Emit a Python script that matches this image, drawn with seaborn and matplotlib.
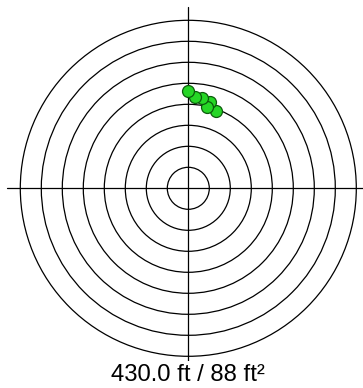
import matplotlib
matplotlib.use("Agg")
import matplotlib.pyplot as plt
from matplotlib.patches import Circle
import seaborn as sns
import pandas as pd

# Shot group on the target (ring units from the centre)
shot_x = [1.30, 1.01, 0.91, 0.65, 0.32, -0.02]
shot_y = [3.68, 4.13, 3.86, 4.30, 4.37, 4.62]

ring_radii = [1, 2, 3, 4, 5, 6, 7, 8]
cross_half = 8.65

distance_ft = 430.0
area_sqft = 88
caption = f"{distance_ft:.1f} ft / {area_sqft} ft\u00b2"

sns.set_theme(style="white")
plt.rcParams["font.family"] = ["Liberation Sans", "DejaVu Sans"]

W, H, DPI = 363, 388, 100
fig = plt.figure(figsize=(W / DPI, H / DPI), dpi=DPI)
axes_h = 361
ax = fig.add_axes([0, (H - axes_h) / H, 1, axes_h / H])
ax.set_facecolor("white")

unit = 21.0
cx, cy = 188.3, 188.3
ax.set_xlim(-cx / unit, (W - cx) / unit)
ax.set_ylim(-(axes_h - cy) / unit, cy / unit)
ax.set_aspect("equal", adjustable="box")
ax.set_axis_off()

for r in ring_radii:
    ax.add_patch(Circle((0, 0), r, fill=False, edgecolor="black", linewidth=0.9, zorder=1))

ax.plot([-cross_half, cross_half], [0, 0], color="black", linewidth=0.9, zorder=1)
ax.plot([0, 0], [-cross_half, cross_half], color="black", linewidth=0.9, zorder=1)

shots = pd.DataFrame({"x": shot_x, "y": shot_y})
sns.scatterplot(data=shots, x="x", y="y", ax=ax, s=74, color="#26d626",
                edgecolor="#0c5c0c", linewidth=0.9, zorder=3, legend=False)
ax.set_xlabel("")
ax.set_ylabel("")

fig.text(187.5 / W, 1 - 380.7 / H, caption, ha="center", va="baseline",
         fontsize=17.2, color="black")

fig.savefig("out.png", dpi=DPI, facecolor="white")
